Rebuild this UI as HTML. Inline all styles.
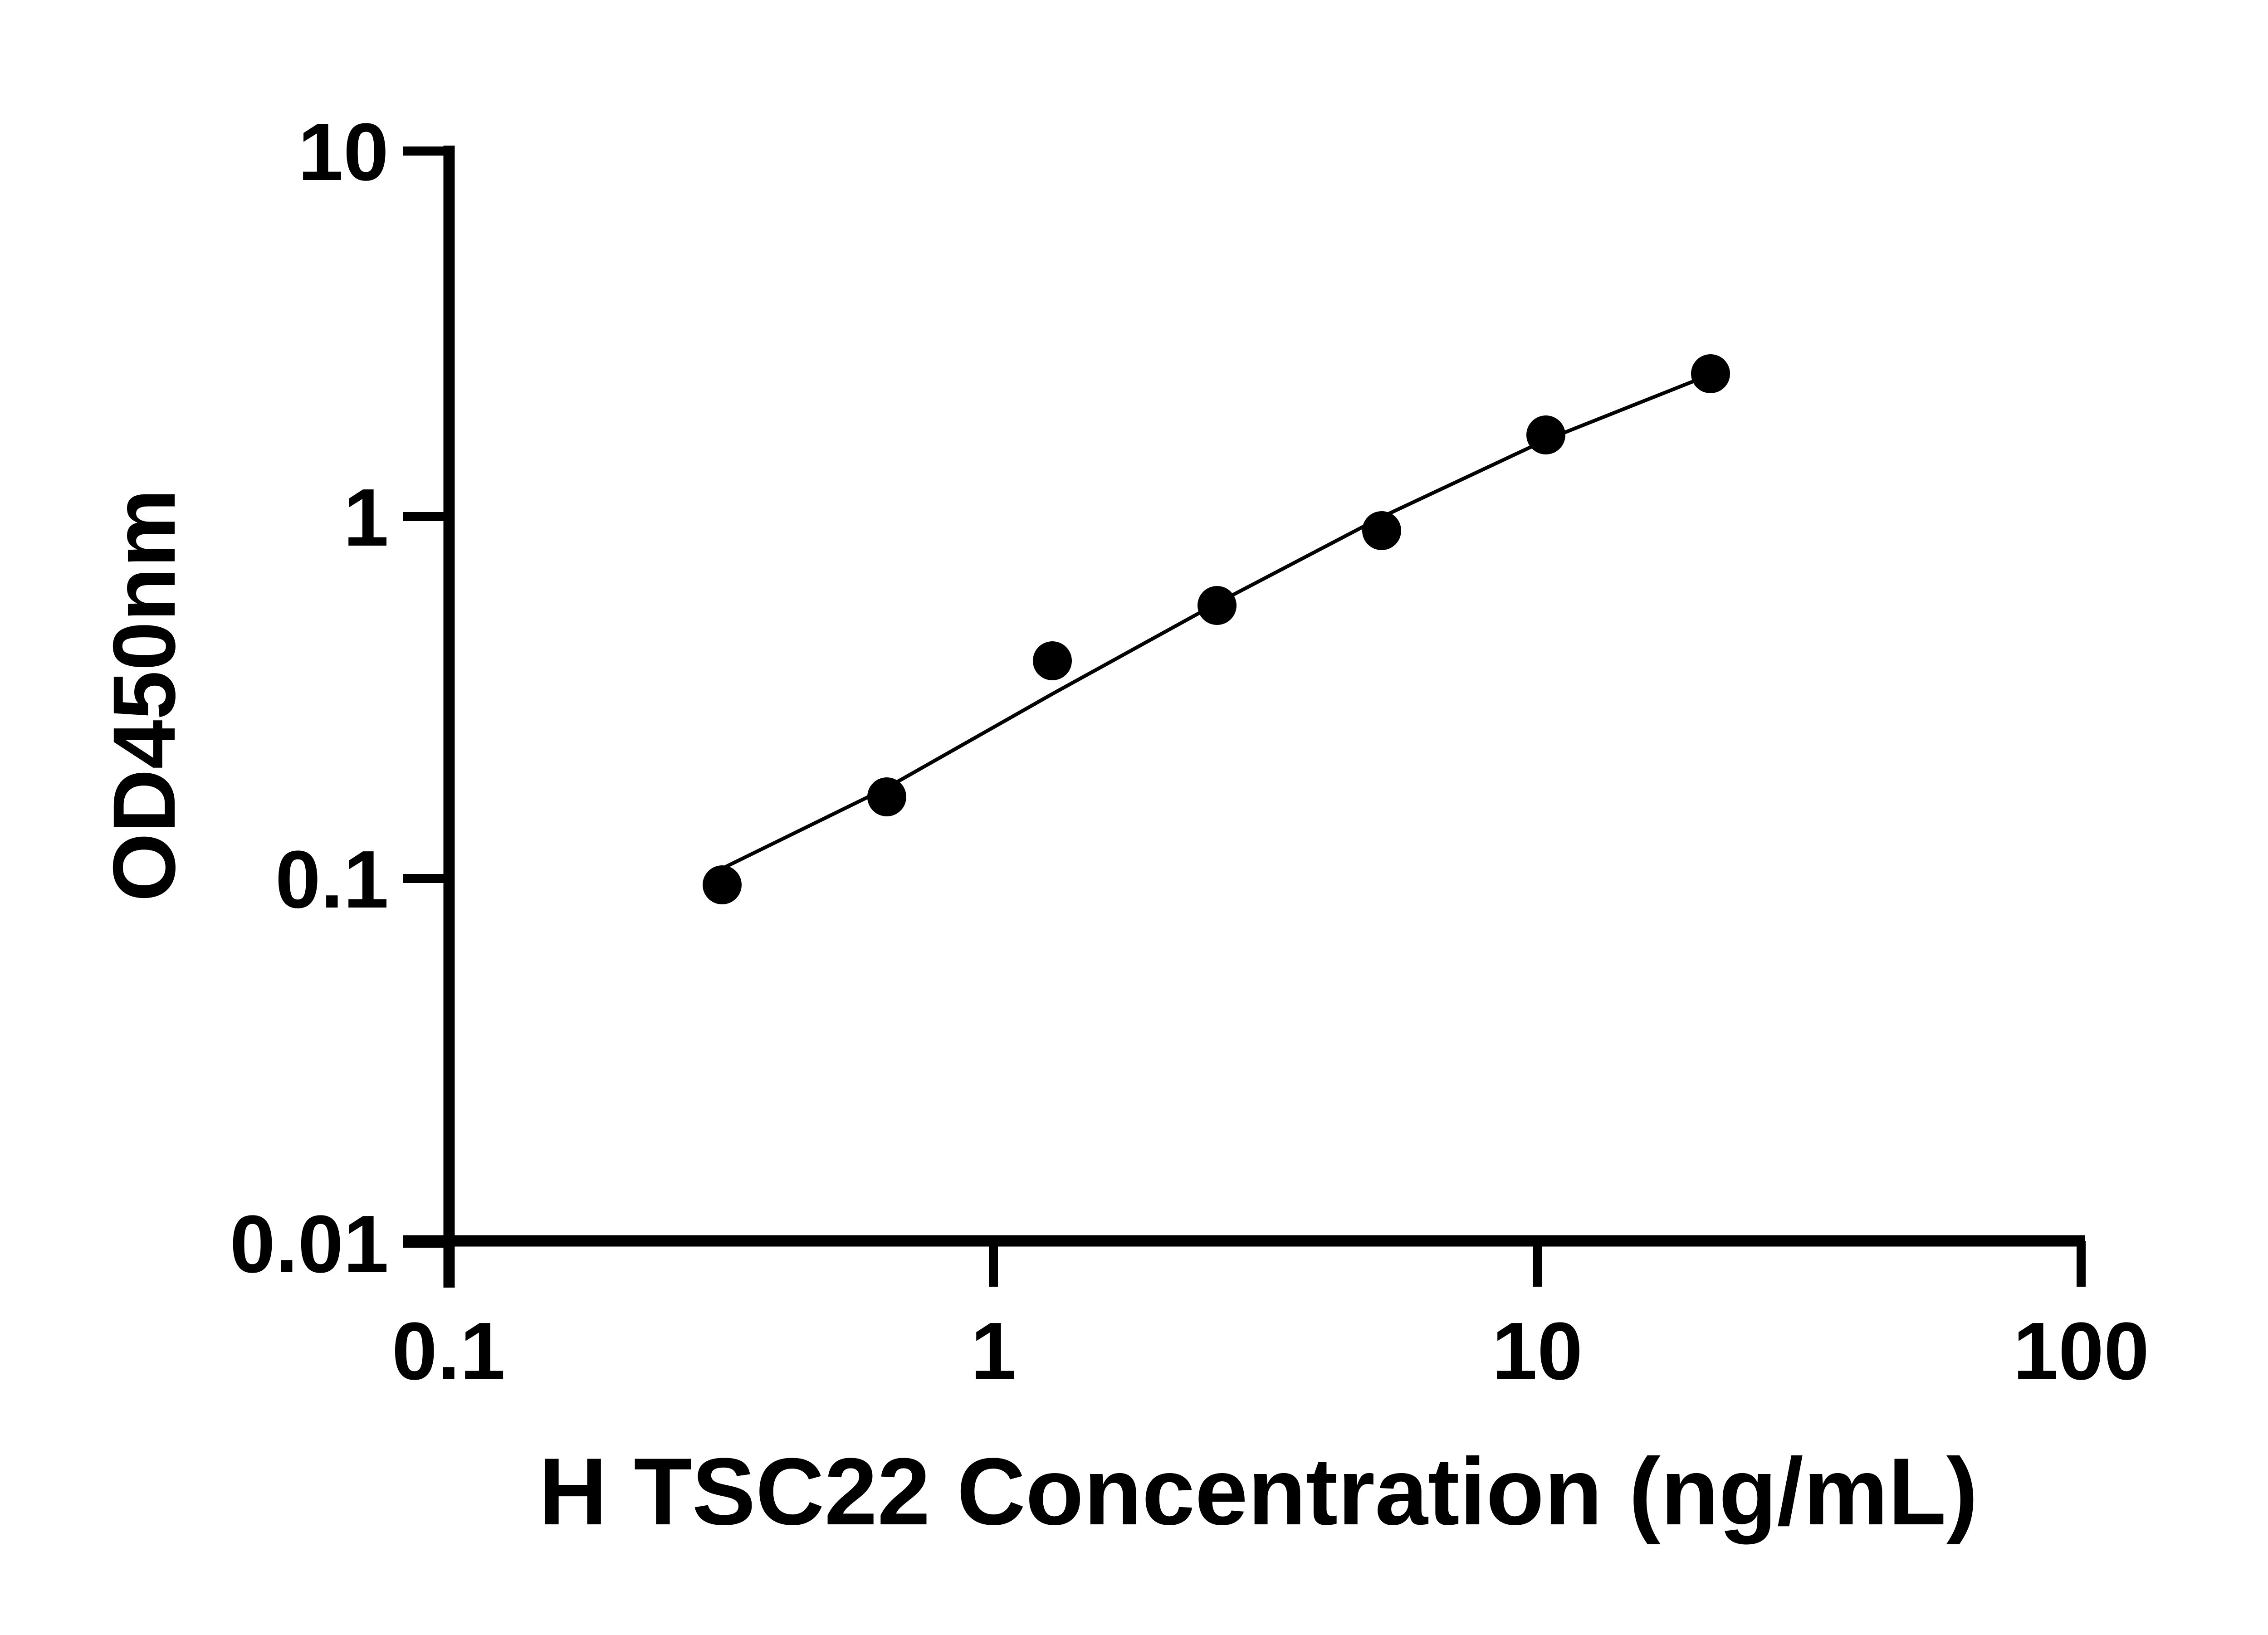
<!DOCTYPE html>
<html><head><meta charset="utf-8"><style>html,body{margin:0;padding:0;background:#fff}</style></head>
<body>
<svg width="5142" height="3600" viewBox="0 0 5142 3600" xmlns="http://www.w3.org/2000/svg" font-family="Liberation Sans, sans-serif" font-weight="bold">
<rect width="5142" height="3600" fill="#fff"/>
<g stroke="#000" fill="none">
<line x1="990" y1="321" x2="990" y2="2839" stroke-width="25"/>
<line x1="889" y1="2736" x2="4596" y2="2736" stroke-width="25"/>
<g stroke-width="20">
<line x1="888" y1="333" x2="990" y2="333"/>
<line x1="888" y1="1139" x2="990" y2="1139"/>
<line x1="888" y1="1937" x2="990" y2="1937"/>
<line x1="888" y1="2741" x2="990" y2="2741"/>
<line x1="2190" y1="2736" x2="2190" y2="2837"/>
<line x1="3389" y1="2736" x2="3389" y2="2837"/>
<line x1="4588" y1="2736" x2="4588" y2="2837"/>
</g>
<polyline points="1592,1915 1955,1737 2320,1530 2683,1330 3046,1140 3408,970 3740,838" stroke-width="8"/>
</g>
<g fill="#000">
<circle cx="1592" cy="1951" r="43"/>
<circle cx="1955" cy="1757" r="43"/>
<circle cx="2320" cy="1457" r="43"/>
<circle cx="2683" cy="1335" r="43"/>
<circle cx="3046" cy="1170" r="43"/>
<circle cx="3408" cy="959" r="43"/>
<circle cx="3771" cy="824" r="43"/>
</g>
<g font-size="180" text-anchor="end" fill="#000">
<text x="857" y="397">10</text>
<text x="857" y="1203">1</text>
<text x="857" y="2001">0.1</text>
<text x="857" y="2805">0.01</text>
</g>
<g font-size="180" text-anchor="middle" fill="#000">
<text x="989" y="3041">0.1</text>
<text x="2190" y="3041">1</text>
<text x="3389" y="3041">10</text>
<text x="4588" y="3041">100</text>
</g>
<text x="2774" y="3361" font-size="210" text-anchor="middle" fill="#000">H TSC22 Concentration (ng/mL)</text>
<text transform="translate(385,1533) rotate(-90)" font-size="195" text-anchor="middle" fill="#000">OD450nm</text>
</svg>
</body></html>
